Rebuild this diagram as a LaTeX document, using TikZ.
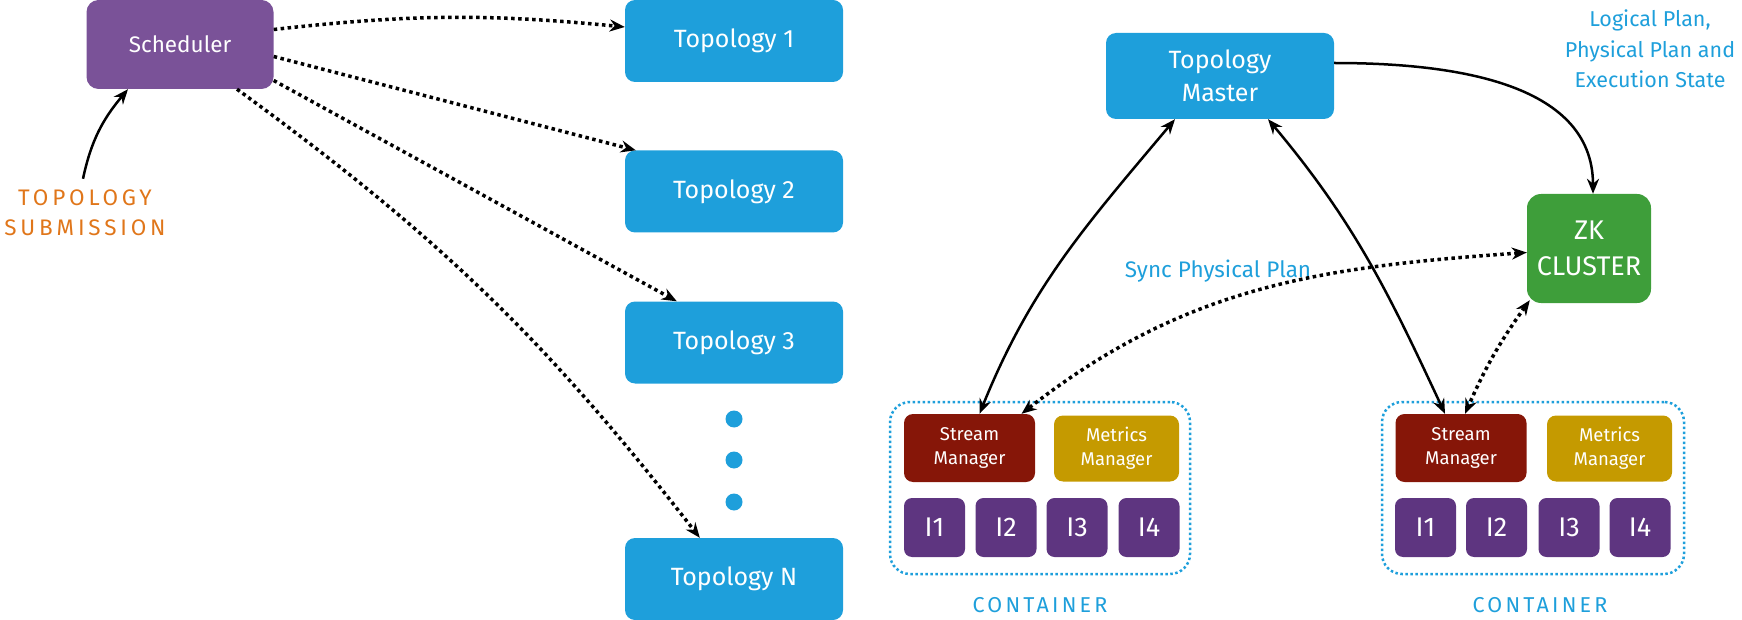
\documentclass[tikz,border=0pt]{standalone}
\usepackage{fontspec}
\setmainfont{Fira Sans}
\usetikzlibrary{arrows.meta,calc}
\definecolor{schedpurple}{RGB}{122,82,152}
\definecolor{topblue}{RGB}{30,159,219}
\definecolor{zkgreen}{RGB}{62,158,58}
\definecolor{smred}{RGB}{134,22,8}
\definecolor{mmgold}{RGB}{197,154,0}
\definecolor{instpurple}{RGB}{94,53,128}
\definecolor{suborange}{RGB}{224,118,26}
\begin{document}
\begin{tikzpicture}[x=1pt,y=1pt,
  >={Stealth[length=15pt,width=12pt]},
  box/.style={rounded corners=10pt, text=white, align=center, inner sep=0pt},
  schedbox/.style={box, fill=schedpurple, minimum width=187pt, minimum height=89pt, rounded corners=12pt, font=\fontsize{22.5}{26}\selectfont},
  topbox/.style={box, fill=topblue, minimum width=218pt, minimum height=82pt, font=\fontsize{25}{30}\selectfont},
  tmbox/.style={box, fill=topblue, minimum width=228pt, minimum height=86pt, font=\fontsize{25}{33}\selectfont},
  zkbox/.style={box, fill=zkgreen, minimum width=124pt, minimum height=109pt, rounded corners=14pt, font=\fontsize{27}{36}\selectfont},
  smbox/.style={box, fill=smred, minimum width=131pt, minimum height=68pt, rounded corners=9pt, font=\fontsize{18.5}{24}\selectfont},
  mmbox/.style={box, fill=mmgold, minimum width=125pt, minimum height=66pt, rounded corners=9pt, font=\fontsize{18.5}{24}\selectfont},
  instbox/.style={box, fill=instpurple, minimum width=61pt, minimum height=59pt, rounded corners=8pt, font=\fontsize{27}{30}\selectfont},
  contbox/.style={draw=topblue, line width=2.5pt, dash pattern=on 2.5pt off 2.5pt, rounded corners=20pt, minimum width=300pt, minimum height=172pt, inner sep=0pt},
  bluetext/.style={text=topblue, align=center, inner sep=0pt, font=\fontsize{22.5}{30.7}\selectfont},
  conttext/.style={text=topblue, align=center, inner sep=0pt, font=\fontsize{21.5}{26}\selectfont\addfontfeature{LetterSpace=15}},
  subtext/.style={text=suborange, align=center, inner sep=0pt, font=\fontsize{22.5}{30}\selectfont\addfontfeature{LetterSpace=17}},
  dotnode/.style={circle, fill=topblue, minimum size=17pt, inner sep=0pt},
  solidarrow/.style={line width=2.5pt, black},
  dotarrow/.style={line width=3.5pt, black, dash pattern=on 3.5pt off 3.5pt},
]
\useasboundingbox (0,0) rectangle (1742,-620);

% left part
\node[schedbox] (sched) at (180,-44.5) {Scheduler};
\node[topbox] (t1) at (734,-41) {Topology 1};
\node[topbox] (t2) at (734,-191.5) {Topology 2};
\node[topbox] (t3) at (734,-342.5) {Topology 3};
\node[topbox] (tN) at (734,-579) {Topology N};
\node[dotnode] (d1) at (734,-419) {};
\node[dotnode] (d2) at (734,-460) {};
\node[dotnode] (d3) at (734,-502) {};
\node[subtext] (sub) at (85,-213) {TOPOLOGY\\SUBMISSION};

\draw[solidarrow,->] ([xshift=-2pt,yshift=11pt]sub.north) to[out=78,in=-130] ([xshift=-52pt]sched.south);
\draw[dotarrow,->] ([yshift=15pt]sched.east) to[bend left=6] ([yshift=14pt]t1.west);
\draw[dotarrow,->] ([yshift=-12pt]sched.east) -- ([xshift=11pt]t2.north west);
\draw[dotarrow,->] ([yshift=-36pt]sched.east) -- ([xshift=52pt]t3.north west);
\draw[dotarrow,->] ([xshift=57pt]sched.south) to[bend left=8] ([xshift=75pt]tN.north west);

% right part
\node[tmbox] (tm) at (1220,-76) {Topology\\Master};
\node[zkbox] (zk) at (1589,-248.5) {ZK\\CLUSTER};
\node[bluetext, font=\fontsize{21.5}{30.7}\selectfont] (logic) at (1650,-49) {Logical Plan,\\Physical Plan and\\Execution State};
\node[bluetext] (sync) at (1218,-271) {Sync Physical Plan};

\node[contbox] (c1) at (1040,-488) {};
\node[smbox] (sm1) at (969.5,-448) {Stream\\Manager};
\node[mmbox] (mm1) at (1116.5,-448.5) {Metrics\\Manager};
\node[instbox] (a1) at (934.5,-527.5) {I1};
\node[instbox] (a2) at (1006,-527.5) {I2};
\node[instbox] (a3) at (1077,-527.5) {I3};
\node[instbox] (a4) at (1149,-527.5) {I4};
\node[conttext] (cl1) at (1040,-605) {CONTAINER};

\node[contbox, minimum width=302pt] (c2) at (1533,-488) {};
\node[smbox] (sm2) at (1461,-448) {Stream\\Manager};
\node[mmbox] (mm2) at (1609.5,-448.5) {Metrics\\Manager};
\node[instbox] (b1) at (1425.5,-527.5) {I1};
\node[instbox] (b2) at (1496.5,-527.5) {I2};
\node[instbox] (b3) at (1569,-527.5) {I3};
\node[instbox] (b4) at (1640,-527.5) {I4};
\node[conttext] (cl2) at (1540,-605) {CONTAINER};

\draw[solidarrow,->] ([yshift=13pt]tm.east) to[out=0,in=90] ([xshift=4pt]zk.north);
\draw[solidarrow,<->] ([xshift=-45pt]tm.south) to[out=-130,in=68] ([xshift=10pt]sm1.north);
\draw[solidarrow,<->] ([xshift=48pt]tm.south) to[out=-50,in=115] ([xshift=-16pt]sm2.north);
\draw[dotarrow,<->] ([yshift=-4pt]zk.west) to[out=184,in=38] ([xshift=52pt]sm1.north);
\draw[dotarrow,<->] ([shift={(3pt,3pt)}]zk.south west) to[bend right=6] ([xshift=4pt]sm2.north);
\end{tikzpicture}
\end{document}
